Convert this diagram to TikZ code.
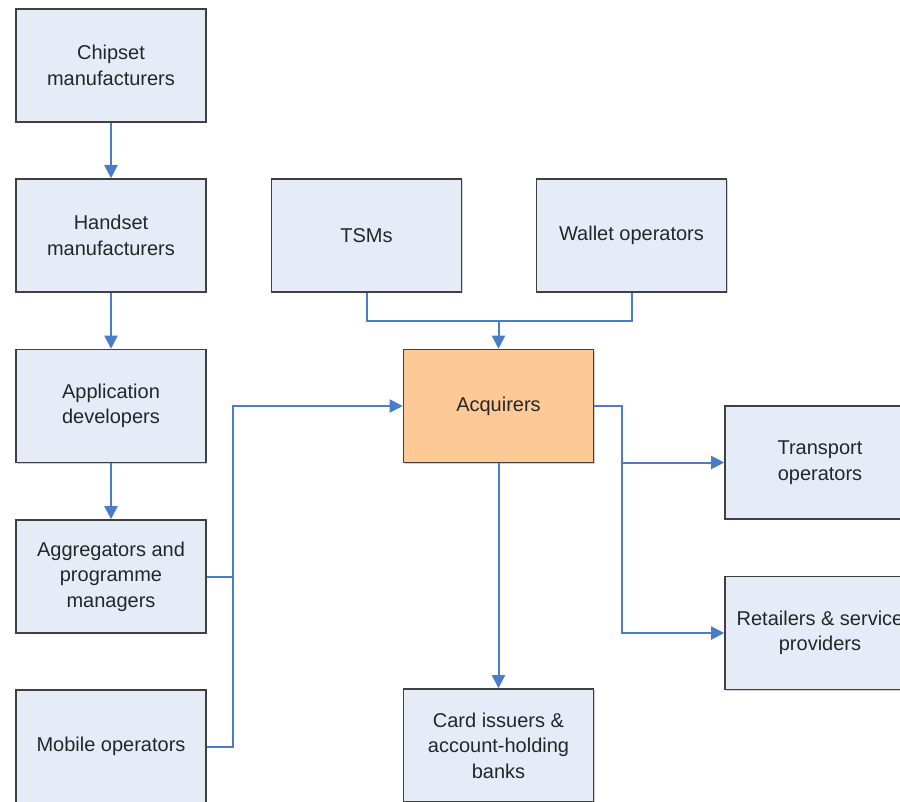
\documentclass[tikz,border=0pt]{standalone}
\usepackage{fontspec}
\setmainfont{Liberation Sans}
\usetikzlibrary{arrows.meta,shadows}
\definecolor{boxfill}{HTML}{E6ECF7}
\definecolor{acqfill}{HTML}{FDCA97}
\definecolor{linkblue}{HTML}{4A7CC9}
\tikzset{
  entity/.style={draw=black!75, line width=1.6pt, fill=boxfill,
    minimum width=190pt, minimum height=113pt, align=center,
    inner sep=2pt, text=black!85,
    font=\fontsize{20}{25.5}\selectfont,
    drop shadow={shadow xshift=1.2pt, shadow yshift=-1.2pt, fill=black!30, opacity=0.6}},
  link/.style={draw=linkblue, line width=2pt},
  arr/.style={link, -{Triangle[length=13pt,width=13pt]}}
}
\begin{document}
\begin{tikzpicture}[x=1pt,y=-1pt]
\useasboundingbox (0,0) rectangle (900,801);
\clip (0,0) rectangle (900,801);
\fill[white] (0,0) rectangle (900,801);
% left column
\node[entity] (chip) at (111,65.5) {Chipset\\manufacturers};
\node[entity] (hand) at (111,235.5) {Handset\\manufacturers};
\node[entity] (app) at (111,406) {Application\\developers};
\node[entity] (agg) at (111,576.5) {Aggregators and\\programme\\managers};
\node[entity] (mob) at (111,746.5) {Mobile operators};
% top
\node[entity] (tsm) at (366.5,235.5) {TSMs};
\node[entity] (wal) at (631.5,235.5) {Wallet operators};
% centre
\node[entity, fill=acqfill] (acq) at (498.5,406) {Acquirers};
\node[entity] (card) at (498.5,745.5) {Card issuers \&\\account-holding\\banks};
% right
\node[entity] (trans) at (820,462.5) {Transport\\operators};
\node[entity] (ret) at (820,633) {Retailers \& service\\providers};
% junctions
\coordinate (jl) at (233,406);
\coordinate (jt) at (498.5,321);
\coordinate (jr) at (622,406);
% connectors
\draw[arr] (chip) -- (hand);
\draw[arr] (hand) -- (app);
\draw[arr] (app) -- (agg);
\draw[link] (agg.east) -| (jl);
\draw[arr] (mob.east) -| (jl) -- (acq.west);
\draw[link] (tsm.south) |- (jt);
\draw[arr] (wal.south) |- (jt) -- (acq.north);
\draw[arr] (acq.east) -- (jr) |- (trans.west);
\draw[arr] (jr) |- (ret.west);
\draw[arr] (acq.south) -- (card.north);
\end{tikzpicture}
\end{document}
